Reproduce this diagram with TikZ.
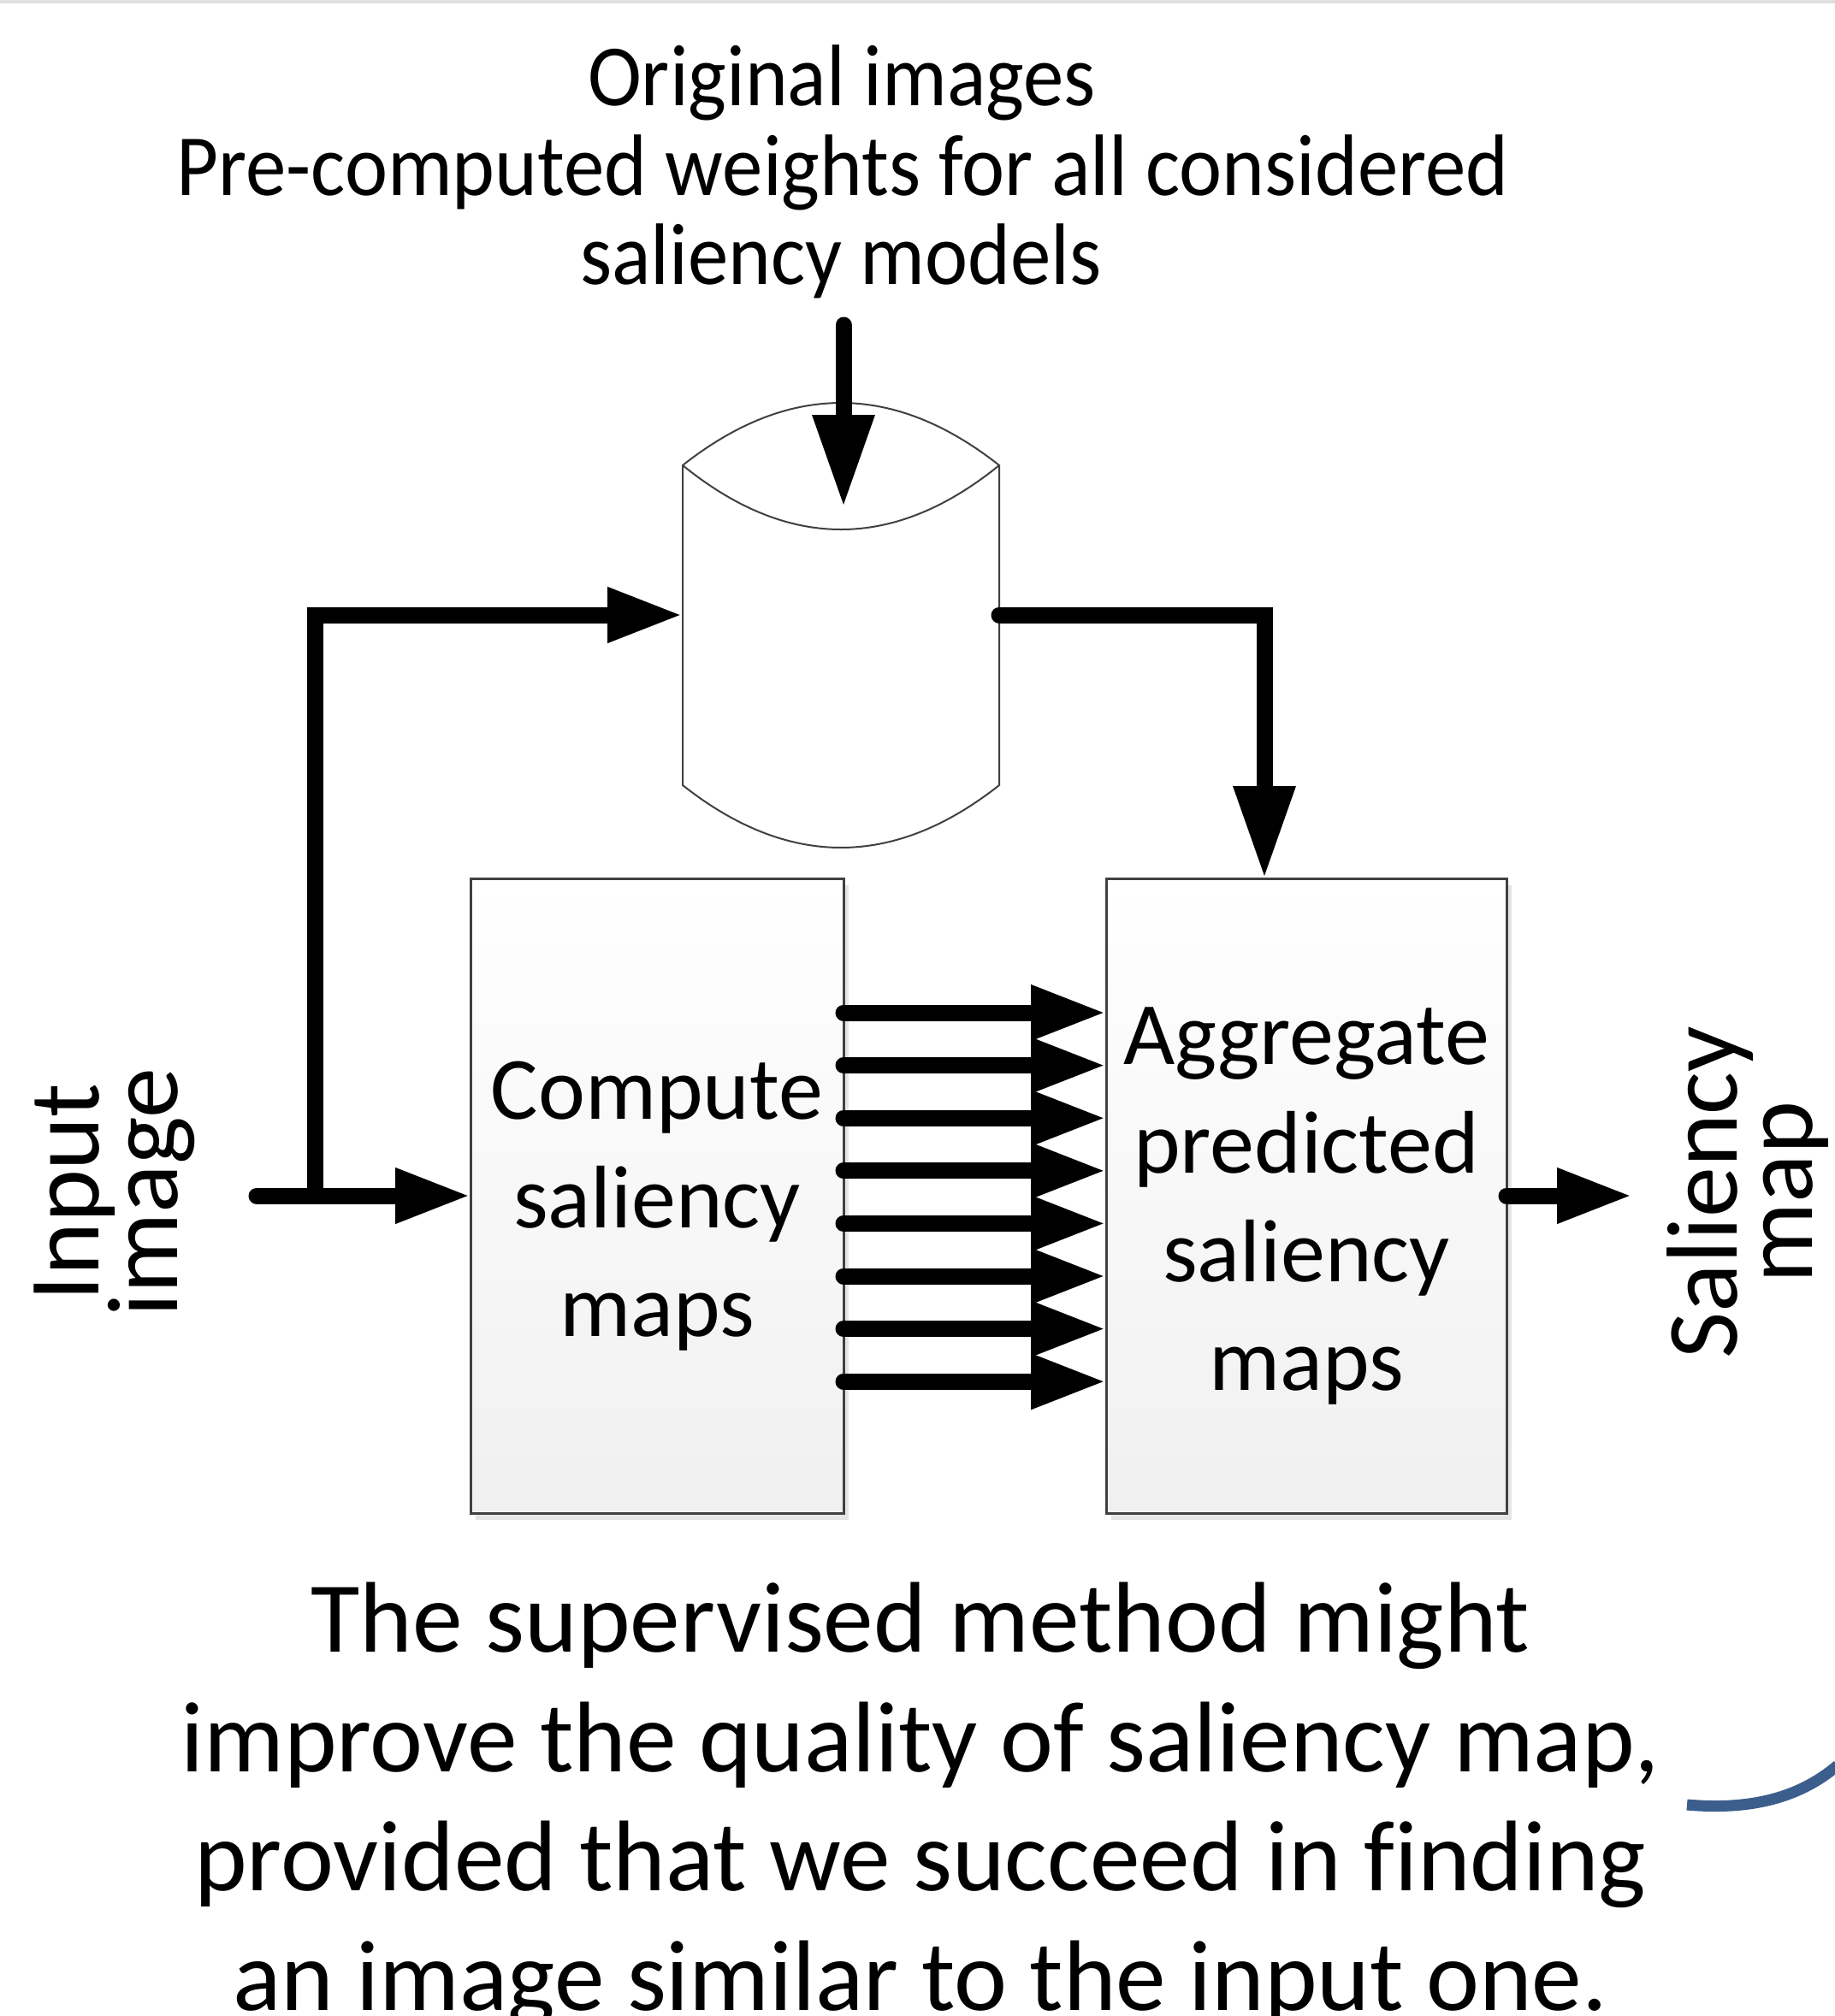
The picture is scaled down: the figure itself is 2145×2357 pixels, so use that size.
\documentclass[tikz,border=0pt]{standalone}
\usepackage{fontspec}
\setmainfont{Carlito}[Ligatures=CommonOff]
\newfontfamily\condfont[FakeStretch=0.93,Ligatures=CommonOff]{Carlito}
\usetikzlibrary{arrows.meta,shadows}
\definecolor{edgegray}{HTML}{404040}
\definecolor{boxbot}{HTML}{F0F0F0}
\definecolor{slideblue}{HTML}{3B5E8C}
\tikzset{
  flow/.style={line width=9.5pt, line cap=round, line join=miter},
  harrow/.style={flow, -{Triangle[length=44pt,width=30pt]}},
  varrow/.style={flow, -{Triangle[length=54pt,width=34pt]}},
  procbox/.style={draw=edgegray, line width=1.5pt, top color=white, bottom color=boxbot,
    drop shadow={shadow xshift=3pt, shadow yshift=-4pt, fill=black!10, opacity=1},
    minimum height=371pt, inner sep=0pt, outer sep=0pt},
  boxtext/.style={font=\fontsize{52pt}{63.5pt}\selectfont, align=center, inner sep=0pt},
  sidelabel/.style={font=\fontsize{59pt}{59pt}\selectfont, inner sep=0pt, rotate=90, anchor=base},
  toptext/.style={font=\condfont\fontsize{51pt}{52pt}\selectfont, inner sep=0pt, anchor=base},
  bottext/.style={font=\fontsize{58.7pt}{70pt}\selectfont, inner sep=0pt, anchor=base},
  dbline/.style={draw=edgegray, line width=1pt}
}
\begin{document}
\begin{tikzpicture}[x=0.5pt,y=-0.5pt]
\useasboundingbox (0,0) rectangle (2145,2357);
\fill[black!12] (0,0) rectangle (2145,4);

% top text
\node[toptext] (t1) at (984,123) {Original images};
\node[toptext] (t2) at (985,228) {Pre-computed weights for all considered};
\node[toptext] (t3) at (983,332) {saliency models};

% cylinder (database)
\path[dbline, fill=white] (798,544) -- (798,918)
  .. controls (921.3,1015.3) and (1044.7,1015.3) .. (1168,918) -- (1168,544)
  .. controls (1044.7,446.7) and (921.3,446.7) .. (798,544) -- cycle;
\path[dbline] (798,544) .. controls (921.3,644) and (1044.7,644) .. (1168,544);

% boxes
\node[procbox, minimum width=218pt] (cmp) at (768,1398) {};
\node[procbox, minimum width=234pt] (agg) at (1527,1398) {};
\node[boxtext] (cmptxt) at ([yshift=-6pt]cmp.center) {Compute\\saliency\\maps};
\node[boxtext] (aggtxt) at ([yshift=-6pt]agg.center) {Aggregate\\predicted\\saliency\\maps};

% side labels
\node[sidelabel] (in1) at (115,1394) {Input};
\node[sidelabel] (in2) at (207,1394) {image};
\node[sidelabel] (out1) at (2030,1394) {Saliency};
\node[sidelabel] (out2) at (2118,1394) {map};

% coordinates for connectors
\coordinate (src) at (986,380);
\coordinate (dbin) at (986,593);
\coordinate (dbL) at (798,719);
\coordinate (dbR) at (1168,719);
\coordinate (inp) at (300,1398);
\coordinate (jn) at (368,1398);
\coordinate (outp) at (1908,1398);

% connectors
\draw[varrow] (src) -- (dbin);
\draw[harrow] (inp) -- (cmp.west);
\draw[harrow] (jn) |- (dbL);
\draw[varrow] (dbR) -| ([xshift=-24.5pt]agg.north);
\draw[harrow] (agg.east) -- (outp);
\foreach \i in {0,...,7}{
  \pgfmathsetmacro\yy{1184+61.6*\i}
  \coordinate (r\i) at (0,\yy);
  \draw[harrow] (cmp.east |- r\i) -- (agg.west |- r\i);
}

% bottom text
\node[bottext] (b1) at (1076,1931) {The supervised method might};
\node[bottext] (b2) at (1076,2071) {improve the quality of saliency map,};
\node[bottext] (b3) at (1076,2210) {provided that we succeed in finding};
\node[bottext] (b4) at (1076,2350) {an image similar to the input one.};

% slide decoration
\draw[slideblue, line width=6.5pt] (1972,2110) .. controls (2040,2116) and (2100,2105) .. (2148,2064);
\end{tikzpicture}
\end{document}
